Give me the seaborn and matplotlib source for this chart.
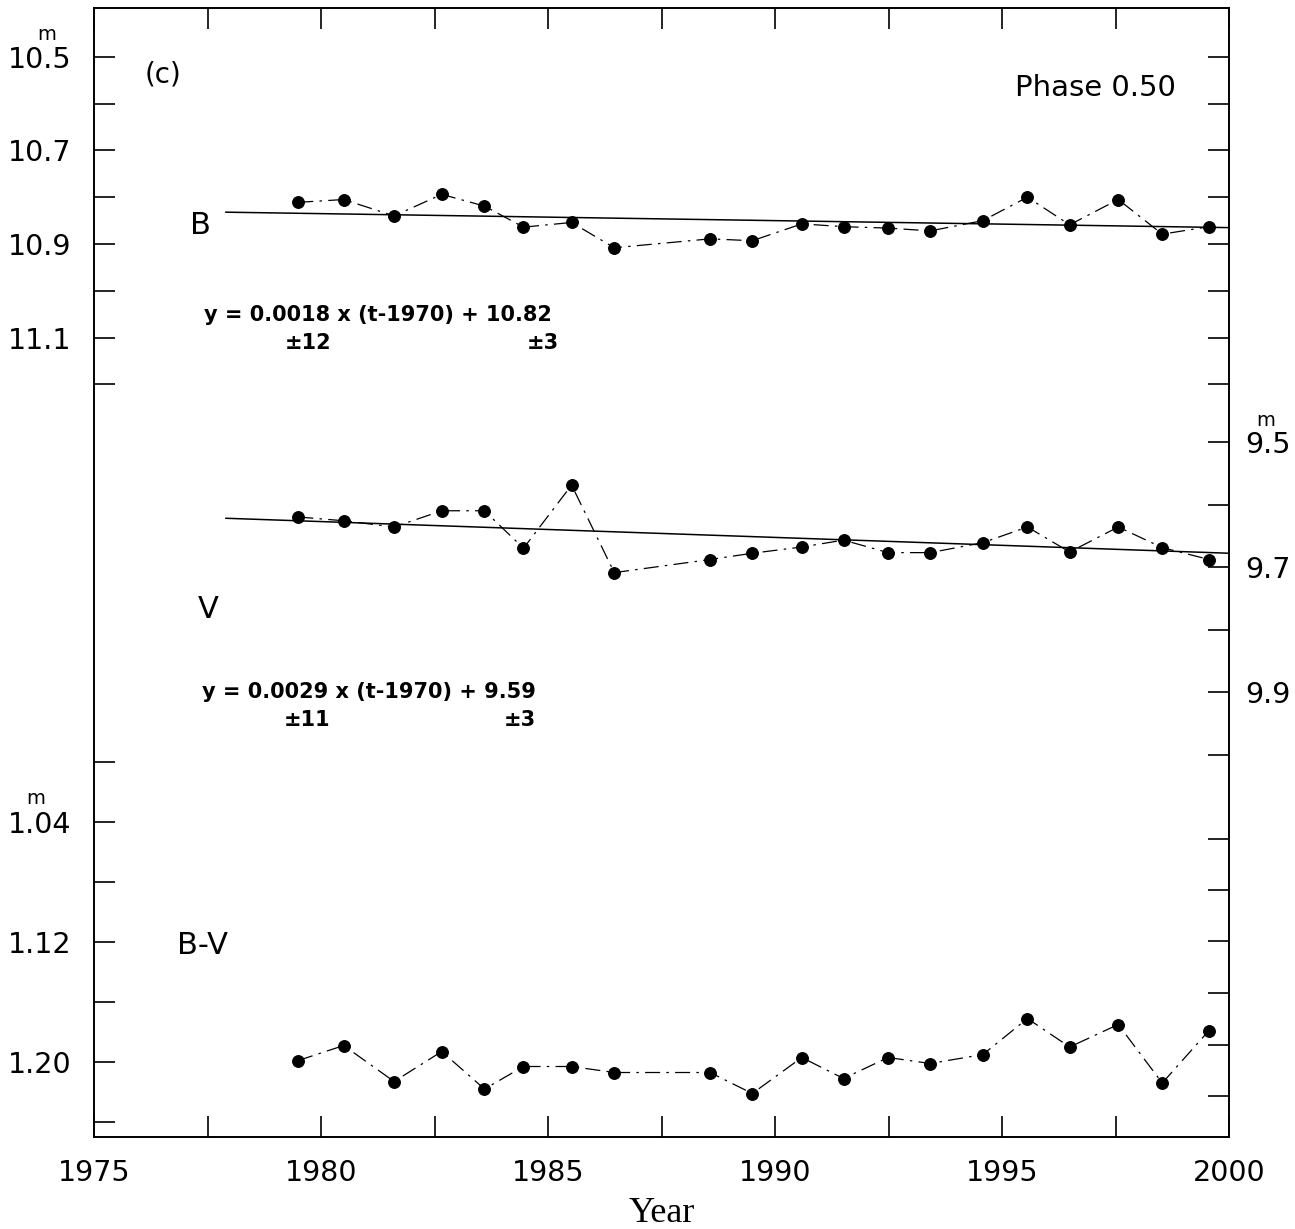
import numpy as np
import pandas as pd
import matplotlib
matplotlib.use("Agg")
import matplotlib.pyplot as plt
import seaborn as sns

# ---------------- data ----------------
years = [1979.50, 1980.50, 1981.61, 1982.66, 1983.60, 1984.46, 1985.52, 1986.46,
         1988.57, 1989.50, 1990.59, 1991.51, 1992.49, 1993.42, 1994.58, 1995.56,
         1996.49, 1997.56, 1998.53, 1999.56]
b_mag = [10.811, 10.805, 10.840, 10.794, 10.819, 10.864, 10.854, 10.908,
         10.889, 10.893, 10.857, 10.863, 10.866, 10.872, 10.850, 10.800,
         10.859, 10.805, 10.879, 10.863]
v_mag = [9.620, 9.626, 9.636, 9.610, 9.610, 9.670, 9.569, 9.709,
         9.688, 9.678, 9.668, 9.657, 9.677, 9.677, 9.661, 9.636,
         9.676, 9.636, 9.669, 9.688]
bv_mag = [1.199, 1.189, 1.213, 1.193, 1.218, 1.203, 1.203, 1.207,
          1.207, 1.221, 1.197, 1.211, 1.197, 1.201, 1.195, 1.171,
          1.190, 1.175, 1.214, 1.179]

trend_years = [1977.9, 2000.0]
b_trend = [10.832, 10.865]
v_trend = [9.622, 9.678]

x_ticks = [1975, 1977.5, 1980, 1982.5, 1985, 1987.5, 1990, 1992.5, 1995, 1997.5, 2000]
x_labels = ["1975", "", "1980", "", "1985", "", "1990", "", "1995", "", "2000"]
b_ticks = [10.5, 10.6, 10.7, 10.8, 10.9, 11.0, 11.1, 11.2]
b_labels = ["10.5", "", "10.7", "", "10.9", "", "11.1", ""]
v_ticks = [9.5, 9.6, 9.7, 9.8, 9.9, 10.0]
v_labels = ["9.5", "", "9.7", "", "9.9", ""]
v_lower_ticks = [10.135, 10.217, 10.298, 10.382, 10.465, 10.546]
bv_ticks = [1.00, 1.04, 1.08, 1.12, 1.16, 1.20, 1.24]
bv_labels = ["", "1.04", "", "1.12", "", "1.20", ""]

df = pd.DataFrame({"year": years, "B": b_mag, "V": v_mag, "BV": bv_mag})
tr = pd.DataFrame({"year": trend_years, "B": b_trend, "V": v_trend})

# ---------------- style ----------------
sns.set_theme(style="white")
plt.rcParams['font.family'] = ['DejaVu Sans']
for k in ('text.color', 'axes.labelcolor', 'xtick.color', 'ytick.color', 'axes.edgecolor'):
    plt.rcParams[k] = 'black'

W, H = 1295, 1229
fig = plt.figure(figsize=(W / 100, H / 100), dpi=100)
ax = fig.add_axes([94 / W, 1 - 1137 / H, (1229 - 94) / W, (1137 - 8) / H])
ax2 = ax.twinx()
ax3 = ax.twinx()
for a in (ax2, ax3):
    for s in a.spines.values():
        s.set_visible(False)
for s in ax.spines.values():
    s.set_linewidth(1.4)
    s.set_color('black')

dash = (0, (12, 5, 2, 5))
mk = dict(marker='o', markersize=8.5, markerfacecolor='black', markeredgecolor='black')

sns.lineplot(data=df, x="year", y="B", ax=ax, color='black', linewidth=0.9,
             linestyle=dash, sort=False, **mk)
sns.lineplot(data=tr, x="year", y="B", ax=ax, color='black', linewidth=1.1)
sns.lineplot(data=df, x="year", y="V", ax=ax2, color='black', linewidth=0.9,
             linestyle=dash, sort=False, **mk)
sns.lineplot(data=tr, x="year", y="V", ax=ax2, color='black', linewidth=1.1)
sns.lineplot(data=df, x="year", y="BV", ax=ax3, color='black', linewidth=0.9,
             linestyle=dash, sort=False, **mk)

ax.set_xlim(1975, 2000)
ax.set_ylim(12.807, 10.396)
ax2.set_ylim(10.612, 8.8056)
ax3.set_ylim(1.25, 0.4973)

tick_kw = dict(direction='in', length=15, width=1.2, colors='black', labelsize=20.5)
ax.set_xticks(x_ticks)
ax.set_xticklabels(x_labels)
ax.tick_params(axis='x', top=True, bottom=True, pad=16, **tick_kw)
ax.set_yticks(b_ticks)
ax.set_yticklabels(b_labels)
ax.tick_params(axis='y', left=True, right=True, labelright=False, pad=16, **tick_kw)

ax2.set_yticks(v_ticks)
ax2.set_yticklabels(v_labels)
ax2.set_yticks(v_lower_ticks, minor=True)
ax2.tick_params(axis='y', which='major', left=False, right=True, labelleft=False,
                labelright=True, pad=12, **tick_kw)
ax2.tick_params(axis='y', which='minor', left=False, right=True, direction='in',
                length=15, width=1.2, colors='black')

ax3.yaxis.tick_left()
ax3.set_yticks(bv_ticks)
ax3.set_yticklabels(bv_labels)
ax3.tick_params(axis='y', left=True, right=False, labelleft=True, labelright=False,
                pad=16, **tick_kw)

for a in (ax, ax2, ax3):
    a.set_ylabel("")
ax.set_xlabel("Year", family=['Liberation Serif'], fontsize=26, labelpad=7)


def px(x, y):
    return x / W, 1 - y / H


def put(x, y, s, size, **kw):
    fx, fy = px(x, y)
    fig.text(fx, fy, s, fontsize=size, ha='center', va='center', color='black', **kw)


put(163, 75, "(c)", 20)
put(1095, 88, "Phase 0.50", 21)
put(200, 225, "B", 22)
put(208, 609, "V", 22)
put(203, 946, "B-V", 22)

put(378, 315, "y = 0.0018 x (t-1970) + 10.82", 15, fontweight='bold')
put(308, 343, "±12", 15, fontweight='bold')
put(543, 343, "±3", 15, fontweight='bold')
put(369, 692, "y = 0.0029 x (t-1970) + 9.59", 15, fontweight='bold')
put(307, 720, "±11", 15, fontweight='bold')
put(520, 720, "±3", 15, fontweight='bold')

put(47, 34, "m", 14)
put(36, 799, "m", 14)
put(1266, 421, "m", 14)

fig.savefig("out.png", dpi=100)
